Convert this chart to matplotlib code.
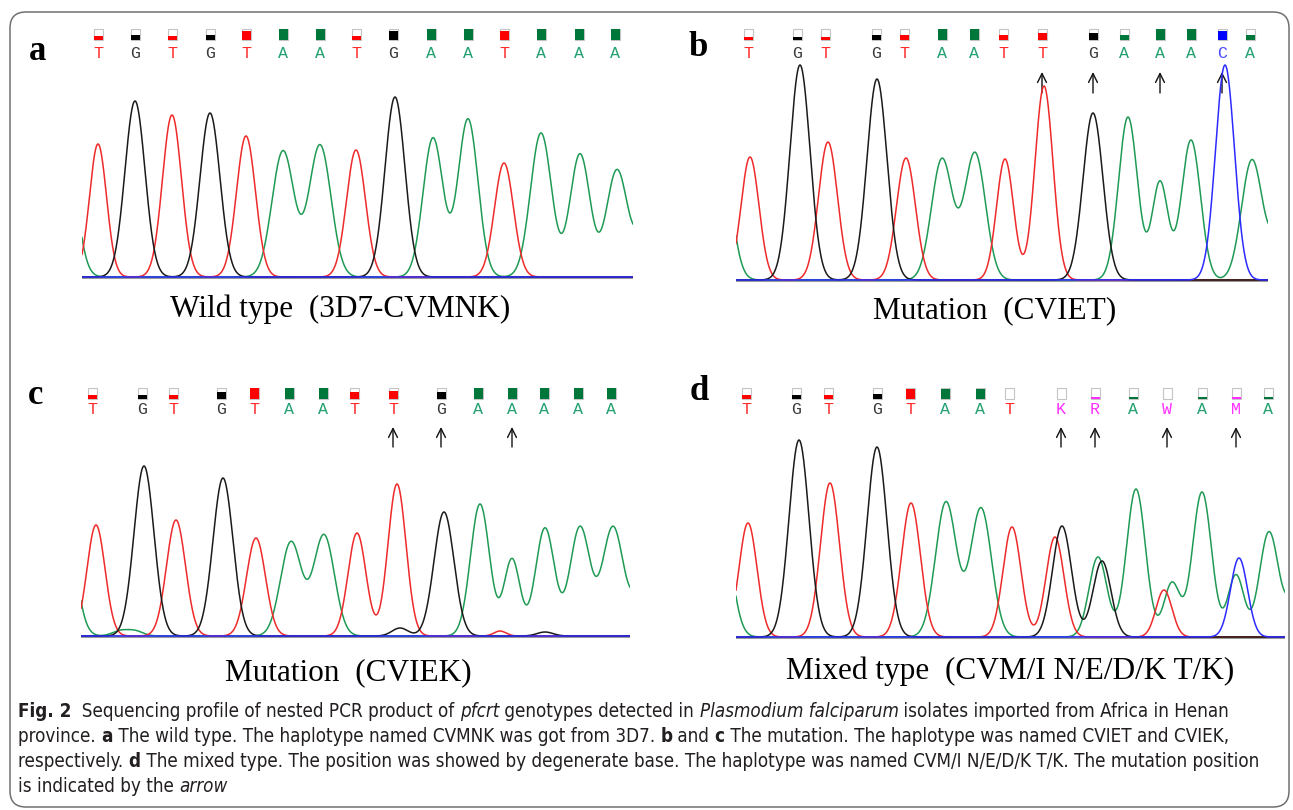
import numpy as np
import matplotlib
matplotlib.use("Agg")
import matplotlib.pyplot as plt
import matplotlib.patches as mpatches
import matplotlib.transforms as mtransforms
from matplotlib import font_manager

W, H = 1293, 810

# ---------------- data ----------------
# base calls: letter, position on the scan axis, quality bar fill (0..1)
# peaks per dye channel: (scan position, signal height, peak width)

a_bases = "TGTGTAATGAATAAA"
a_calls = [98, 135, 172, 210, 246, 283, 320, 356, 393, 431, 468, 504, 541, 579, 615]
a_qual = [.35, .45, .35, .45, .85, 1, 1, .35, .8, 1, 1, .85, 1, 1, 1]
a_red = [(98, 133, 8.5), (172, 162, 9.5), (246, 141, 9.5), (356, 127, 9.5), (504, 114, 9.5)]
a_black = [(135, 176, 10), (210, 164, 10), (395, 180, 10)]
a_green = [(65, 146, 10.5), (283, 126, 11), (320, 132, 11), (433, 139, 10),
           (468, 158, 10), (541, 144, 10.5), (580, 123, 10), (617, 107, 10.5), (648, 60, 10)]
a_blue = []
a_arrows = []

b_bases = "TGTGTAATTGAAACA"
b_calls = [748, 797, 825, 876, 904, 942, 974, 1003, 1042, 1093, 1124, 1160, 1191, 1222, 1250]
b_qual = [.3, .3, .3, .5, .5, 1, 1, .5, .65, .65, .5, 1, 1, .8, .5]
b_red = [(750, 123, 9), (828, 138, 9.5), (906, 122, 9.5), (1005, 121, 8.5), (1044, 194, 9)]
b_black = [(800, 215, 10), (877, 201, 10), (1093, 167, 10)]
b_green = [(720, 140, 10.5), (942, 121, 10.5), (975, 127, 10.5), (1128, 163, 9.5),
           (1160, 98, 8), (1191, 140, 9.5), (1252, 120, 10.5), (1283, 60, 10)]
b_blue = [(1225, 215, 9.5)]
b_arrows = [8, 9, 11, 13]

c_bases = "TGTGTAATTGAAAAA"
c_calls = [92, 142, 173, 221, 254, 289, 323, 354, 393, 441, 478, 512, 544, 578, 611]
c_qual = [.35, .35, .35, .6, 1, 1, 1, .65, .7, .6, 1, 1, 1, 1, 1]
c_red = [(96, 111, 9), (176, 116, 9.5), (256, 98, 9.5), (357, 103, 9), (397, 152, 9), (500, 5, 6)]
c_black = [(144, 170, 10), (223, 158, 10), (400, 8, 8), (444, 124, 10), (545, 4, 8)]
c_green = [(64, 130, 10.5), (120, 5, 8), (135, 5, 8), (291, 94, 10.5), (324, 101, 10.5),
           (480, 132, 9.5), (512, 77, 8), (545, 108, 9.5), (580, 109, 10), (613, 109, 10.5), (645, 60, 10)]
c_blue = []
c_arrows = [8, 9, 11]

d_bases = "TGTGTAATKRAWAMA"
d_calls = [746, 796, 828, 877, 910, 945, 980, 1009, 1061, 1095, 1133, 1167, 1202, 1236, 1268]
d_qual = [.35, .35, .35, .5, .9, .9, .9, 0, 0, .15, .15, 0, .2, .15, .15]
d_red = [(748, 114, 9), (830, 154, 9.5), (911, 134, 9.5), (1012, 110, 9), (1055, 100, 9), (1164, 47, 8)]
d_black = [(799, 197, 10), (877, 190, 10), (1062, 111, 9.5), (1102, 76, 9)]
d_green = [(720, 130, 10.5), (946, 135, 10.5), (981, 129, 10.5), (1098, 80, 9), (1136, 148, 9.5),
           (1172, 54, 8), (1202, 145, 9.5), (1236, 62, 8), (1269, 105, 9.5), (1300, 60, 10)]
d_blue = [(1239, 79, 8.5)]
d_arrows = [8, 9, 11, 13]

titles = ["Wild type  (3D7-CVMNK)", "Mutation  (CVIET)", "Mutation  (CVIEK)",
          "Mixed type  (CVM/I N/E/D/K T/K)"]

caption = [
    [("Fig. 2", "bold"), ("  Sequencing profile of nested PCR product of ", "normal"), ("pfcrt", "italic"),
     (" genotypes detected in ", "normal"), ("Plasmodium falciparum", "italic"),
     (" isolates imported from Africa in Henan", "normal")],
    [("province. ", "normal"), ("a", "bold"), (" The wild type. The haplotype named CVMNK was got from 3D7. ", "normal"),
     ("b", "bold"), (" and ", "normal"), ("c", "bold"),
     (" The mutation. The haplotype was named CVIET and CVIEK,", "normal")],
    [("respectively. ", "normal"), ("d", "bold"),
     (" The mixed type. The position was showed by degenerate base. The haplotype was named CVM/I N/E/D/K T/K. The mutation position", "normal")],
    [("is indicated by the ", "normal"), ("arrow", "italic")],
]

# ---------------- styles ----------------
trace_col = {"green": "#1f9a55", "red": "#ee2a2a", "black": "#1a1a1a", "blue": "#2b2bff"}
call_col = {"T": "#ff2b2b", "G": "#3a3a3a", "A": "#22a070", "C": "#4a4aff",
            "K": "#ff30ff", "R": "#ff30ff", "W": "#ff30ff", "M": "#ff30ff"}
qual_col = {"T": "#ff0000", "G": "#000000", "A": "#00773a", "C": "#0000ff",
            "K": "#ff30ff", "R": "#ff30ff", "W": "#ff30ff", "M": "#ff30ff"}

# a narrow sans for the caption if there is one
fonts = font_manager.fontManager.ttflist
narrow = [f.name for f in fonts if "Sans" in f.name and str(f.stretch) in ("condensed", "semi-condensed", "extra-condensed", "375", "400", "300", "250")]
names = {f.name for f in fonts}
if narrow:
    cap_font, cap_stretch = narrow[0], "condensed"
else:
    cap_font = next(n for n in ["Liberation Sans Narrow", "Open Sans", "DejaVu Sans"] if n in names)
    cap_stretch = "normal"

# ---------------- figure ----------------
fig = plt.figure(figsize=(W / 100, H / 100), dpi=100)
canvas = fig.add_axes([0, 0, 1, 1])
canvas.set_xlim(0, W)
canvas.set_ylim(H, 0)
canvas.axis("off")

canvas.add_patch(mpatches.FancyBboxPatch((10, 12), 1279, 795,
                                         boxstyle="round,pad=0,rounding_size=16",
                                         fc="white", ec="#707070", lw=1.1, zorder=0))

# pixel layout of each panel: trace span, baseline, top, quality box row, letter row, arrow span, tag, title
layout = [
    dict(span=(82, 633), base=277, top=60, box=29, row=53, arrow=(93, 72), tag=(38, 52), title=(340, 317)),
    dict(span=(736, 1268), base=280, top=60, box=29, row=53, arrow=(93, 72), tag=(698, 48), title=(995, 318)),
    dict(span=(81, 630), base=636, top=420, box=388, row=409, arrow=(447, 427), tag=(36, 396), title=(348, 680)),
    dict(span=(736, 1285), base=637, top=420, box=388, row=409, arrow=(447, 427), tag=(699, 392), title=(1010, 679)),
]
panels = [
    (a_bases, a_calls, a_qual, dict(green=a_green, red=a_red, black=a_black, blue=a_blue), a_arrows),
    (b_bases, b_calls, b_qual, dict(green=b_green, red=b_red, black=b_black, blue=b_blue), b_arrows),
    (c_bases, c_calls, c_qual, dict(green=c_green, red=c_red, black=c_black, blue=c_blue), c_arrows),
    (d_bases, d_calls, d_qual, dict(green=d_green, red=d_red, black=d_black, blue=d_blue), d_arrows),
]

for k, (lay, (bases, calls, qual, traces, arrows)) in enumerate(zip(layout, panels)):
    x0, x1 = lay["span"]
    pad = 3
    ax = fig.add_axes([x0 / W, (H - lay["base"] - pad) / H, (x1 - x0) / W, (lay["base"] + pad - lay["top"]) / H])
    ax.set_xlim(x0, x1)
    ax.set_ylim(-pad, lay["base"] - lay["top"])
    ax.axis("off")
    ax.patch.set_alpha(0)

    ax.axhline(0, color="#9a9a9a", lw=2.2, zorder=1)
    xs = np.linspace(x0, x1, 2500)
    for ch in ["green", "red", "black", "blue"]:
        sig = np.zeros_like(xs)
        for pos, hgt, wid in traces[ch]:
            sig += hgt * np.exp(-0.5 * ((xs - pos) / wid) ** 2)
        ax.plot(xs, sig, color=trace_col[ch], lw=1.1, zorder=2, solid_joinstyle="round")

    # base calls above the trace: x on the scan axis, y in page pixels
    blend = mtransforms.blended_transform_factory(ax.transData, canvas.transData)
    for b, xc, q in zip(bases, calls, qual):
        canvas.add_patch(mpatches.Rectangle((xc - 4.5, lay["box"]), 9, 11, transform=blend,
                                            fc="white", ec="#c4c4c4", lw=0.8))
        if q > 0:
            canvas.add_patch(mpatches.Rectangle((xc - 4.5, lay["box"] + 11 * (1 - q)), 9, 11 * q,
                                                transform=blend, fc=qual_col[b], ec="none"))
        canvas.text(xc, lay["row"], b, transform=blend, ha="center", va="center",
                    family="Liberation Mono", fontsize=12, color=call_col[b])
    for i in arrows:
        canvas.annotate("", xy=(calls[i], lay["arrow"][1]), xytext=(calls[i], lay["arrow"][0]),
                        xycoords=blend, textcoords=blend,
                        arrowprops=dict(arrowstyle="->", color="#111111", lw=1.0,
                                        mutation_scale=16, shrinkA=0, shrinkB=0))

    canvas.text(*lay["tag"], "abcd"[k], ha="center", va="center", family="Liberation Serif",
                fontweight="bold", fontsize=25)
    canvas.text(*lay["title"], titles[k], ha="center", va="baseline", family="Liberation Serif",
                fontsize=22.5)

# ---------------- caption ----------------
renderer = fig.canvas.get_renderer()


def seg_props(weight, size):
    return dict(family=cap_font, fontsize=size, fontstretch=cap_stretch,
                fontweight="bold" if weight == "bold" else "normal",
                fontstyle="italic" if weight == "italic" else "normal")


def seg_width(s, weight, size):
    t = canvas.text(0, 0, s + "x", **seg_props(weight, size))
    r = canvas.text(0, 0, "x", **seg_props(weight, size))
    w = t.get_window_extent(renderer).width - r.get_window_extent(renderer).width
    t.remove()
    r.remove()
    return w


size = 14
full = sum(seg_width(s, wt, size) for s, wt in caption[0])
size = size * 1219 / full

for li, line in enumerate(caption):
    xc = 18
    for s, wt in line:
        canvas.text(xc, 717 + 25 * li, s, color="#231f20", va="baseline", ha="left", **seg_props(wt, size))
        xc += seg_width(s, wt, size)

fig.savefig("out.png", dpi=100)
